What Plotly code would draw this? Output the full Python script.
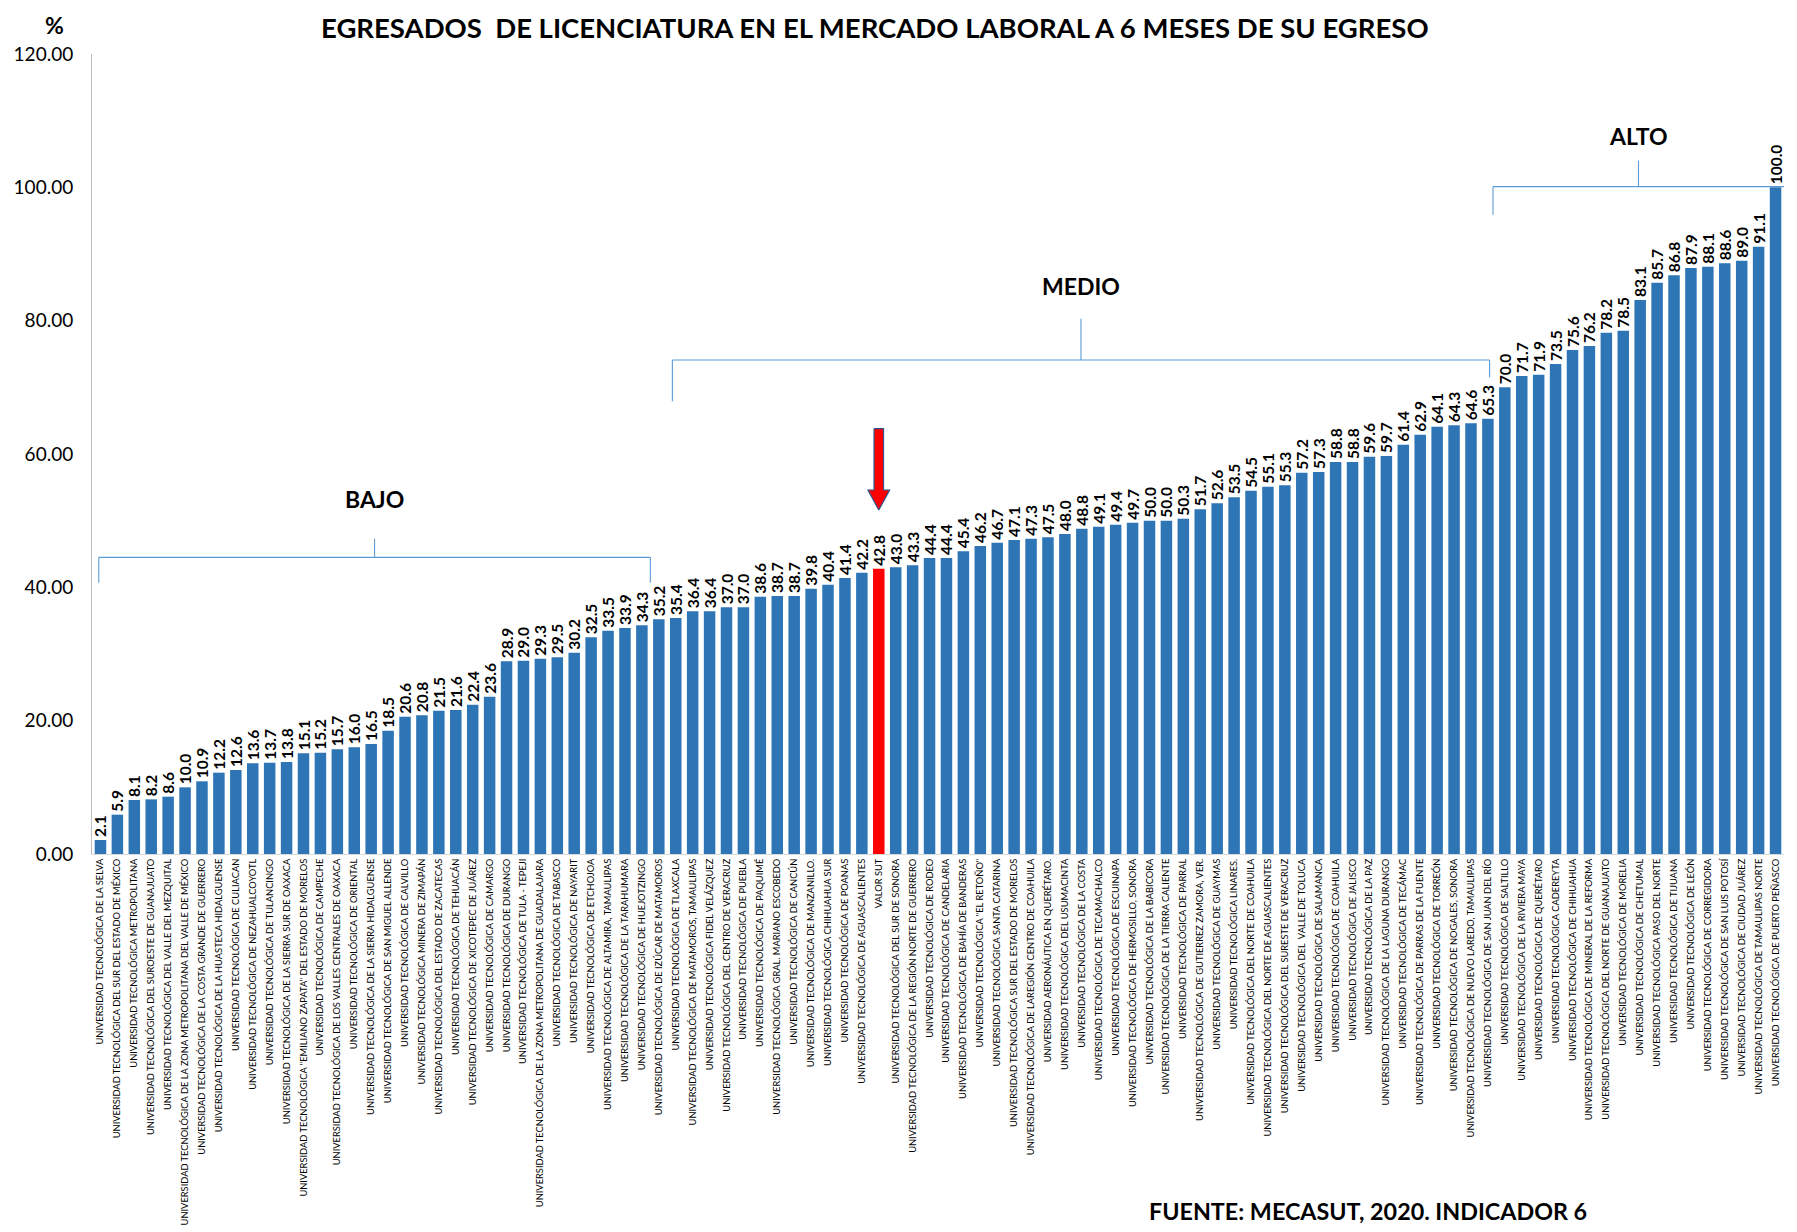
import plotly.graph_objects as go

categories = [
    "UNIVERSIDAD TECNOLÓGICA DE LA SELVA",
    "UNIVERSIDAD TECNOLÓGICA DEL SUR DEL ESTADO DE MÉXICO",
    "UNIVERSIDAD TECNOLÓGICA METROPOLITANA",
    "UNIVERSIDAD TECNOLÓGICA DEL SUROESTE DE GUANAJUATO",
    "UNIVERSIDAD TECNOLÓGICA DEL VALLE DEL MEZQUITAL",
    "UNIVERSIDAD TECNOLÓGICA DE LA ZONA METROPOLITANA DEL VALLE DE MÉXICO",
    "UNIVERSIDAD TECNOLÓGICA DE LA COSTA GRANDE DE GUERRERO",
    "UNIVERSIDAD TECNOLÓGICA DE LA HUASTECA HIDALGUENSE",
    "UNIVERSIDAD TECNOLÓGICA DE CULIACAN",
    "UNIVERSIDAD TECNOLÓGICA DE NEZAHUALCOYOTL",
    "UNIVERSIDAD TECNOLÓGICA DE TULANCINGO",
    "UNIVERSIDAD TECNOLÓGICA DE LA SIERRA SUR DE OAXACA",
    "UNIVERSIDAD TECNOLÓGICA \"EMILIANO ZAPATA\" DEL ESTADO DE MORELOS",
    "UNIVERSIDAD TECNOLÓGICA DE CAMPECHE",
    "UNIVERSIDAD TECNOLÓGICA DE LOS VALLES CENTRALES DE OAXACA",
    "UNIVERSIDAD TECNOLÓGICA DE ORIENTAL",
    "UNIVERSIDAD TECNOLÓGICA DE LA SIERRA HIDALGUENSE",
    "UNIVERSIDAD TECNOLÓGICA DE SAN MIGUEL ALLENDE",
    "UNIVERSIDAD TECNOLÓGICA DE CALVILLO",
    "UNIVERSIDAD TECNOLÓGICA MINERA DE ZIMAPÁN",
    "UNIVERSIDAD TECNOLÓGICA DEL ESTADO DE ZACATECAS",
    "UNIVERSIDAD TECNOLÓGICA DE TEHUACÁN",
    "UNIVERSIDAD TECNOLÓGICA DE XICOTEPEC DE JUÁREZ",
    "UNIVERSIDAD TECNOLÓGICA DE CAMARGO",
    "UNIVERSIDAD TECNOLÓGICA DE DURANGO",
    "UNIVERSIDAD TECNOLÓGICA DE TULA - TEPEJI",
    "UNIVERSIDAD TECNOLÓGICA DE LA ZONA METROPOLITANA DE GUADALAJARA",
    "UNIVERSIDAD TECNOLÓGICA DE TABASCO",
    "UNIVERSIDAD TECNOLÓGICA DE NAYARIT",
    "UNIVERSIDAD TECNOLÓGICA DE ETCHOJOA",
    "UNIVERSIDAD TECNOLÓGICA DE ALTAMIRA, TAMAULIPAS",
    "UNIVERSIDAD TECNOLÓGICA DE LA TARAHUMARA",
    "UNIVERSIDAD TECNOLÓGICA DE HUEJOTZINGO",
    "UNIVERSIDAD TECNOLÓGICA DE IZÚCAR DE MATAMOROS",
    "UNIVERSIDAD TECNOLÓGICA DE TLAXCALA",
    "UNIVERSIDAD TECNOLÓGICA DE MATAMOROS, TAMAULIPAS",
    "UNIVERSIDAD TECNOLÓGICA FIDEL VELÁZQUEZ",
    "UNIVERSIDAD TECNOLÓGICA DEL CENTRO DE VERACRUZ",
    "UNIVERSIDAD TECNOLÓGICA DE PUEBLA",
    "UNIVERSIDAD TECNOLÓGICA DE PAQUIMÉ",
    "UNIVERSIDAD TECNOLÓGICA GRAL. MARIANO ESCOBEDO",
    "UNIVERSIDAD TECNOLÓGICA DE CANCÚN",
    "UNIVERSIDAD TECNOLÓGICA DE MANZANILLO.",
    "UNIVERSIDAD TECNOLÓGICA CHIHUAHUA SUR",
    "UNIVERSIDAD TECNOLÓGICA DE POANAS",
    "UNIVERSIDAD TECNOLÓGICA DE AGUASCALIENTES",
    "VALOR SUT",
    "UNIVERSIDAD TECNOLÓGICA DEL SUR DE SONORA",
    "UNIVERSIDAD TECNOLÓGICA DE LA REGIÓN NORTE DE GUERRERO",
    "UNIVERSIDAD TECNOLÓGICA DE RODEO",
    "UNIVERSIDAD TECNOLÓGICA DE CANDELARIA",
    "UNIVERSIDAD TECNOLÓGICA DE BAHÍA DE BANDERAS",
    "UNIVERSIDAD TECNOLÓGICA \"EL RETOÑO\"",
    "UNIVERSIDAD TECNOLÓGICA SANTA CATARINA",
    "UNIVERSIDAD TECNOLÓGICA SUR DEL ESTADO DE MORELOS",
    "UNIVERSIDAD TECNOLÓGICA DE LAREGIÓN CENTRO DE COAHUILA",
    "UNIVERSIDAD AERONÁUTICA EN QUERÉTARO.",
    "UNIVERSIDAD TECNOLÓGICA DEL USUMACINTA",
    "UNIVERSIDAD TECNOLÓGICA DE LA COSTA",
    "UNIVERSIDAD TECNOLÓGICA DE TECAMACHALCO",
    "UNIVERSIDAD TECNOLÓGICA DE ESCUINAPA",
    "UNIVERSIDAD TECNOLÓGICA DE HERMOSILLO, SONORA",
    "UNIVERSIDAD TECNOLÓGICA DE LA BABICORA",
    "UNIVERSIDAD TECNOLÓGICA DE LA TIERRA CALIENTE",
    "UNIVERSIDAD TECNOLÓGICA DE PARRAL",
    "UNIVERSIDAD TECNOLÓGICA DE GUTIERREZ ZAMORA, VER.",
    "UNIVERSIDAD TECNOLÓGICA DE GUAYMAS",
    "UNIVERSIDAD TECNOLÓGICA LINARES.",
    "UNIVERSIDAD TECNOLÓGICA DEL NORTE DE COAHUILA",
    "UNIVERSIDAD TECNOLÓGICA DEL NORTE DE AGUASCALIENTES",
    "UNIVERSIDAD TECNOLÓGICA DEL SURESTE DE VERACRUZ",
    "UNIVERSIDAD TECNOLÓGICA DEL  VALLE DE TOLUCA",
    "UNIVERSIDAD TECNOLÓGICA DE SALAMANCA",
    "UNIVERSIDAD TECNOLÓGICA DE COAHUILA",
    "UNIVERSIDAD TECNOLÓGICA DE JALISCO",
    "UNIVERSIDAD TECNOLÓGICA DE LA PAZ",
    "UNIVERSIDAD TECNOLÓGICA DE LA LAGUNA DURANGO",
    "UNIVERSIDAD TECNOLÓGICA DE TECÁMAC",
    "UNIVERSIDAD TECNOLÓGICA DE PARRAS DE LA FUENTE",
    "UNIVERSIDAD TECNOLÓGICA DE TORREÓN",
    "UNIVERSIDAD TECNOLÓGICA DE NOGALES, SONORA",
    "UNIVERSIDAD TECNOLÓGICA DE NUEVO LAREDO, TAMAULIPAS",
    "UNIVERSIDAD TECNOLÓGICA DE SAN JUAN DEL RÍO",
    "UNIVERSIDAD TECNOLÓGICA DE SALTILLO",
    "UNIVERSIDAD TECNOLÓGICA DE LA RIVIERA MAYA",
    "UNIVERSIDAD TECNOLÓGICA DE QUERÉTARO",
    "UNIVERSIDAD TECNOLÓGICA CADEREYTA",
    "UNIVERSIDAD TECNOLÓGICA DE CHIHUAHUA",
    "UNIVERSIDAD TECNOLÓGICA DE MINERAL DE LA REFORMA",
    "UNIVERSIDAD TECNOLÓGICA DEL NORTE DE GUANAJUATO",
    "UNIVERSIDAD TECNOLÓGICA DE MORELIA",
    "UNIVERSIDAD TECNOLÓGICA DE CHETUMAL",
    "UNIVERSIDAD TECNOLÓGICA PASO DEL NORTE",
    "UNIVERSIDAD TECNOLÓGICA DE TIJUANA",
    "UNIVERSIDAD TECNOLÓGICA DE LEÓN",
    "UNIVERSIDAD TECNOLÓGICA DE CORREGIDORA",
    "UNIVERSIDAD TECNOLÓGICA DE SAN LUIS POTOSÍ",
    "UNIVERSIDAD TECNOLÓGICA DE CIUDAD JUÁREZ",
    "UNIVERSIDAD TECNOLÓGICA DE TAMAULIPAS NORTE",
    "UNIVERSIDAD TECNOLÓGICA DE PUERTO PEÑASCO",
]

values = [
    2.1, 5.9, 8.1, 8.2, 8.6, 10.0, 10.9, 12.2, 12.6, 13.6,
    13.7, 13.8, 15.1, 15.2, 15.7, 16.0, 16.5, 18.5, 20.6, 20.8,
    21.5, 21.6, 22.4, 23.6, 28.9, 29.0, 29.3, 29.5, 30.2, 32.5,
    33.5, 33.9, 34.3, 35.2, 35.4, 36.4, 36.4, 37.0, 37.0, 38.6,
    38.7, 38.7, 39.8, 40.4, 41.4, 42.2, 42.8, 43.0, 43.3, 44.4,
    44.4, 45.4, 46.2, 46.7, 47.1, 47.3, 47.5, 48.0, 48.8, 49.1,
    49.4, 49.7, 50.0, 50.0, 50.3, 51.7, 52.6, 53.5, 54.5, 55.1,
    55.3, 57.2, 57.3, 58.8, 58.8, 59.6, 59.7, 61.4, 62.9, 64.1,
    64.3, 64.6, 65.3, 70.0, 71.7, 71.9, 73.5, 75.6, 76.2, 78.2,
    78.5, 83.1, 85.7, 86.8, 87.9, 88.1, 88.6, 89.0, 91.1, 100.0,
]

highlight = "VALOR SUT"
y_ticks = [0, 20, 40, 60, 80, 100, 120]

# bracket groups: (label, left index pos, right index pos, line y, left drop y, right drop y, tick top, label y)
groups = [
    ("BAJO", -0.1, 32.5, 44.5, 40.7, 40.7, 47.3, 50.8),
    ("MEDIO", 33.8, 82.1, 74.1, 67.9, 71.5, 80.3, 82.8),
    ("ALTO", 82.3, 99.5, 100.1, 95.9, 100.1, 104.0, 105.3),
]

BLUE = "#2E75B6"
RED = "#FF0000"
BRACKET = "#5B9BD5"
FONT = "Lato"

colors = [RED if c == highlight else BLUE for c in categories]
labels = [f"{v:.1f}" for v in values]

fig = go.Figure()
fig.add_trace(go.Bar(
    x=categories, y=values,
    marker=dict(color=colors, line=dict(width=0)),
    text=labels, textposition="outside", textangle=-90,
    constraintext="none", cliponaxis=False,
    textfont=dict(family=FONT, size=15.5, color="black", weight="bold"),
    width=0.68, showlegend=False, hoverinfo="x+y",
))

# arrow pointing at highlighted bar (drawn on a hidden numeric overlay axis)
hi = categories.index(highlight)
top, head_base, tip = 63.8, 54.6, 51.6
sw, hw = 0.28, 0.64
ax_ = [hi - sw, hi + sw, hi + sw, hi + hw, hi, hi - hw, hi - sw, hi - sw]
ay_ = [top, top, head_base, head_base, tip, head_base, head_base, top]
fig.add_trace(go.Scatter(
    x=ax_, y=ay_, xaxis="x2", mode="lines", fill="toself",
    fillcolor=RED, line=dict(color="#2F528F", width=1.2),
    showlegend=False, hoverinfo="skip",
))

shapes = []
annotations = []
for name, x0, x1, yl, d0, d1, yt, ylab in groups:
    xc = (x0 + x1) / 2
    for (xa, ya, xb, yb) in [(x0, yl, x1, yl), (x0, yl, x0, d0), (x1, yl, x1, d1), (xc, yl, xc, yt)]:
        shapes.append(dict(type="line", xref="x2", yref="y", x0=xa, y0=ya, x1=xb, y1=yb,
                           line=dict(color=BRACKET, width=1.1)))
    annotations.append(dict(xref="x2", yref="y", x=xc, y=ylab, text=f"<b>{name}</b>",
                            showarrow=False, yanchor="bottom",
                            font=dict(family=FONT, size=23, color="black")))

annotations += [
    dict(xref="paper", yref="paper", x=0.463, y=1.0565, yanchor="top", xanchor="center",
         text="<b>EGRESADOS  DE LICENCIATURA EN EL MERCADO LABORAL A 6 MESES DE SU EGRESO</b>",
         showarrow=False, font=dict(family=FONT, size=27.5, color="black")),
    dict(xref="paper", yref="paper", x=-0.022, y=1.0565, yanchor="top", xanchor="center",
         text="<b>%</b>", showarrow=False, font=dict(family=FONT, size=23, color="black")),
    dict(xref="paper", yref="paper", x=0.754, y=-0.446, yanchor="middle", xanchor="center",
         text="<b>FUENTE: MECASUT, 2020. INDICADOR 6</b>", showarrow=False,
         font=dict(family=FONT, size=23.3, color="black")),
]

fig.update_layout(
    width=1797, height=1232,
    margin=dict(l=84, r=21, t=46, b=386, autoexpand=False),
    paper_bgcolor="white", plot_bgcolor="white",
    font=dict(family=FONT, color="black"),
    bargap=0.3,
    xaxis=dict(type="category", range=[-0.5, len(categories) - 0.5], tickangle=-90,
               tickmode="array", tickvals=categories, ticktext=categories,
               tickfont=dict(family=FONT, size=9.3, color="black"),
               showgrid=False, showline=True, linecolor="#D9D9D9", ticks="",
               automargin=False, fixedrange=True),
    xaxis2=dict(overlaying="x", range=[-0.5, len(categories) - 0.5], visible=False,
                anchor="y", fixedrange=True, automargin=False),
    yaxis=dict(range=[0, 120], tickvals=y_ticks, tickformat=".2f",
               tickfont=dict(family=FONT, size=19, color="black"),
               ticklabelstandoff=14,
               showgrid=False, showline=True, linecolor="#BFBFBF", ticks="", zeroline=False,
               automargin=False, fixedrange=True),
    shapes=shapes, annotations=annotations,
)

fig.write_html("out.html")
